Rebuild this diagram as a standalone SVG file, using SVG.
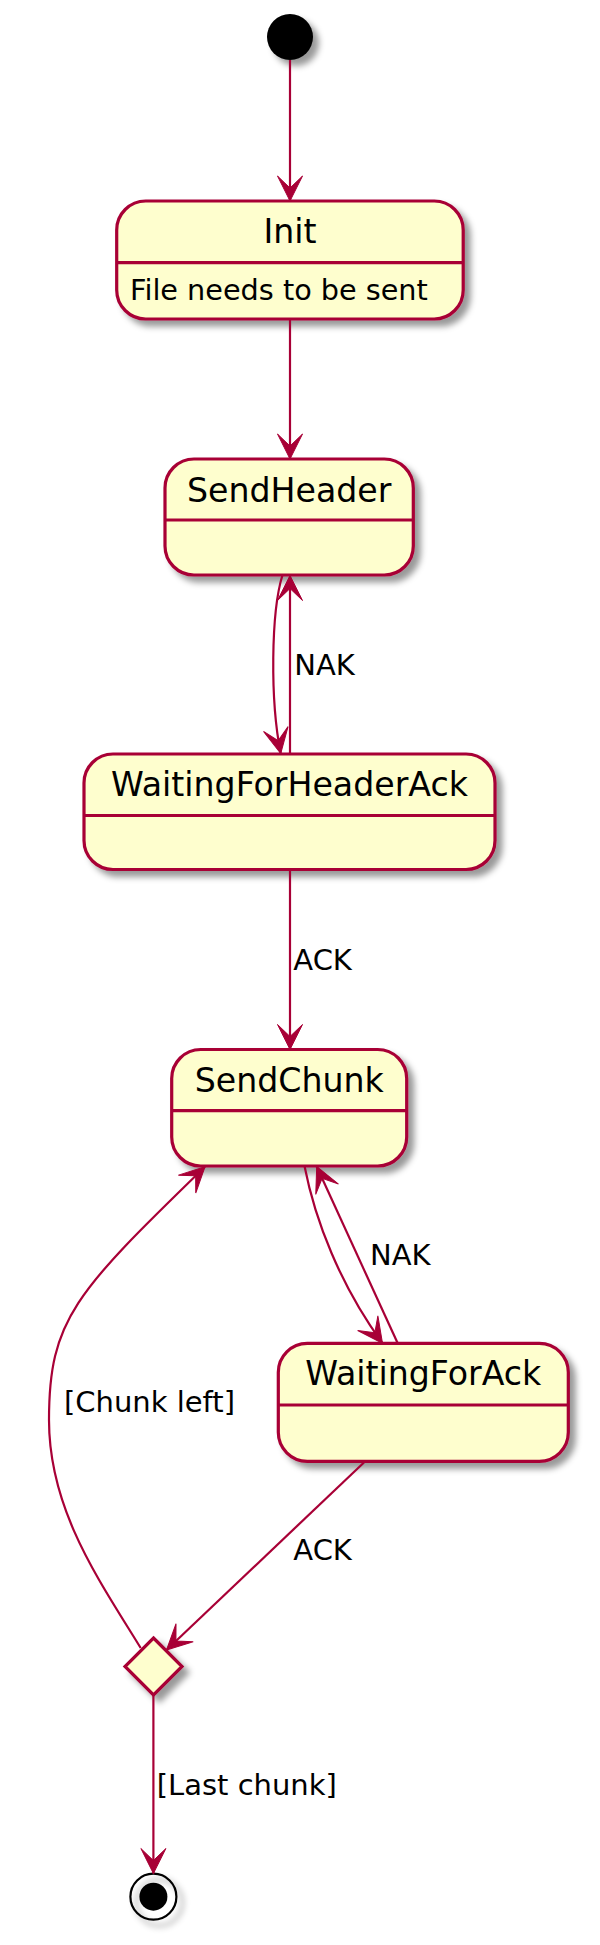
<svg xmlns="http://www.w3.org/2000/svg" width="600" height="1945" viewBox="0 0 600 1945">
<style>
.state{fill:#FEFECE;stroke:#A80036;stroke-width:3.2}
.sep{stroke:#A80036;stroke-width:3.2}
.edge{fill:none;stroke:#A80036;stroke-width:2.2;marker-end:url(#arr)}
.name{font-family:"DejaVu Sans",sans-serif;font-size:33.2px;fill:#000;text-anchor:middle}
.attr{font-family:"DejaVu Sans",sans-serif;font-size:28.7px;fill:#000}
.lbl{font-family:"DejaVu Sans",sans-serif;font-size:29px;fill:#000}
</style>
<defs>
<filter id="sh" x="-30%" y="-30%" width="170%" height="170%">
<feDropShadow dx="6" dy="6" stdDeviation="3" flood-color="#000" flood-opacity="0.4"/>
</filter>
<marker id="arr" markerUnits="userSpaceOnUse" markerWidth="40" markerHeight="40" refX="0" refY="0" orient="auto" overflow="visible">
<path d="M0,0 L-25,-12.5 L-13,0 L-25,12.5 Z" fill="#A80036" stroke="#A80036" stroke-width="1"/>
</marker>
</defs>

<g id="start">
<circle cx="290" cy="37" r="23" fill="#000" filter="url(#sh)"/>
</g>

<g id="Init">
<rect class="state" x="116.7" y="201" width="346.5" height="118" rx="29" ry="29" filter="url(#sh)"/>
<line class="sep" x1="116.7" y1="262.7" x2="463.2" y2="262.7"/>
<text class="name" x="290" y="243">Init</text>
<text class="attr" x="130" y="300">File needs to be sent</text>
</g>

<g id="SendHeader">
<rect class="state" x="165" y="459" width="248.3" height="116" rx="29" ry="29" filter="url(#sh)"/>
<line class="sep" x1="165" y1="520" x2="413.3" y2="520"/>
<text class="name" x="289.2" y="501.7">SendHeader</text>
</g>

<g id="WaitingForHeaderAck">
<rect class="state" x="84" y="754" width="411" height="115.5" rx="29" ry="29" filter="url(#sh)"/>
<line class="sep" x1="84" y1="815.5" x2="495" y2="815.5"/>
<text class="name" x="289.5" y="795.5">WaitingForHeaderAck</text>
</g>

<g id="SendChunk">
<rect class="state" x="171.7" y="1049.5" width="235" height="116.5" rx="29" ry="29" filter="url(#sh)"/>
<line class="sep" x1="171.7" y1="1110.7" x2="406.7" y2="1110.7"/>
<text class="name" x="289.2" y="1091.5">SendChunk</text>
</g>

<g id="WaitingForAck">
<rect class="state" x="278.3" y="1343.3" width="290" height="118" rx="29" ry="29" filter="url(#sh)"/>
<line class="sep" x1="278.3" y1="1405" x2="568.3" y2="1405"/>
<text class="name" x="423.3" y="1385">WaitingForAck</text>
</g>

<g id="choice">
<polygon class="state" points="153.5,1638 182,1666.5 153.5,1695 125,1666.5" filter="url(#sh)"/>
</g>

<g id="end">
<circle cx="153.4" cy="1896.7" r="23" fill="none" stroke="#000" stroke-width="2.2" filter="url(#sh)"/>
<circle cx="153.4" cy="1896.7" r="14" fill="#000"/>
</g>

<g id="connectors">
<path class="edge" d="M290,60 L290,201"/>
<path class="edge" d="M290,319 L290,459"/>
<path class="edge" d="M282.5,575 C271,612 270,700 280.7,753.5"/>
<path class="edge" d="M290,754 L290,575.5"/>
<path class="edge" d="M290,870 L290,1049.5"/>
<path class="edge" d="M304.5,1166 C315,1220 340,1285 382.5,1343.3"/>
<path class="edge" d="M397.7,1343.3 L316.7,1166.5"/>
<path class="edge" d="M365,1461.5 L166.5,1650"/>
<path class="edge" d="M140.7,1648 C99,1580 49,1510 49,1420 C49,1320 75,1292.8 205,1166.7"/>
<path class="edge" d="M153.4,1695 L153.4,1873.5"/>
<text class="lbl" x="294.3" y="675">NAK</text>
<text class="lbl" x="293.3" y="970">ACK</text>
<text class="lbl" x="370" y="1265">NAK</text>
<text class="lbl" x="293.3" y="1560">ACK</text>
<text class="lbl" x="64" y="1411.7">[Chunk left]</text>
<text class="lbl" x="156.7" y="1795">[Last chunk]</text>
</g>
</svg>
